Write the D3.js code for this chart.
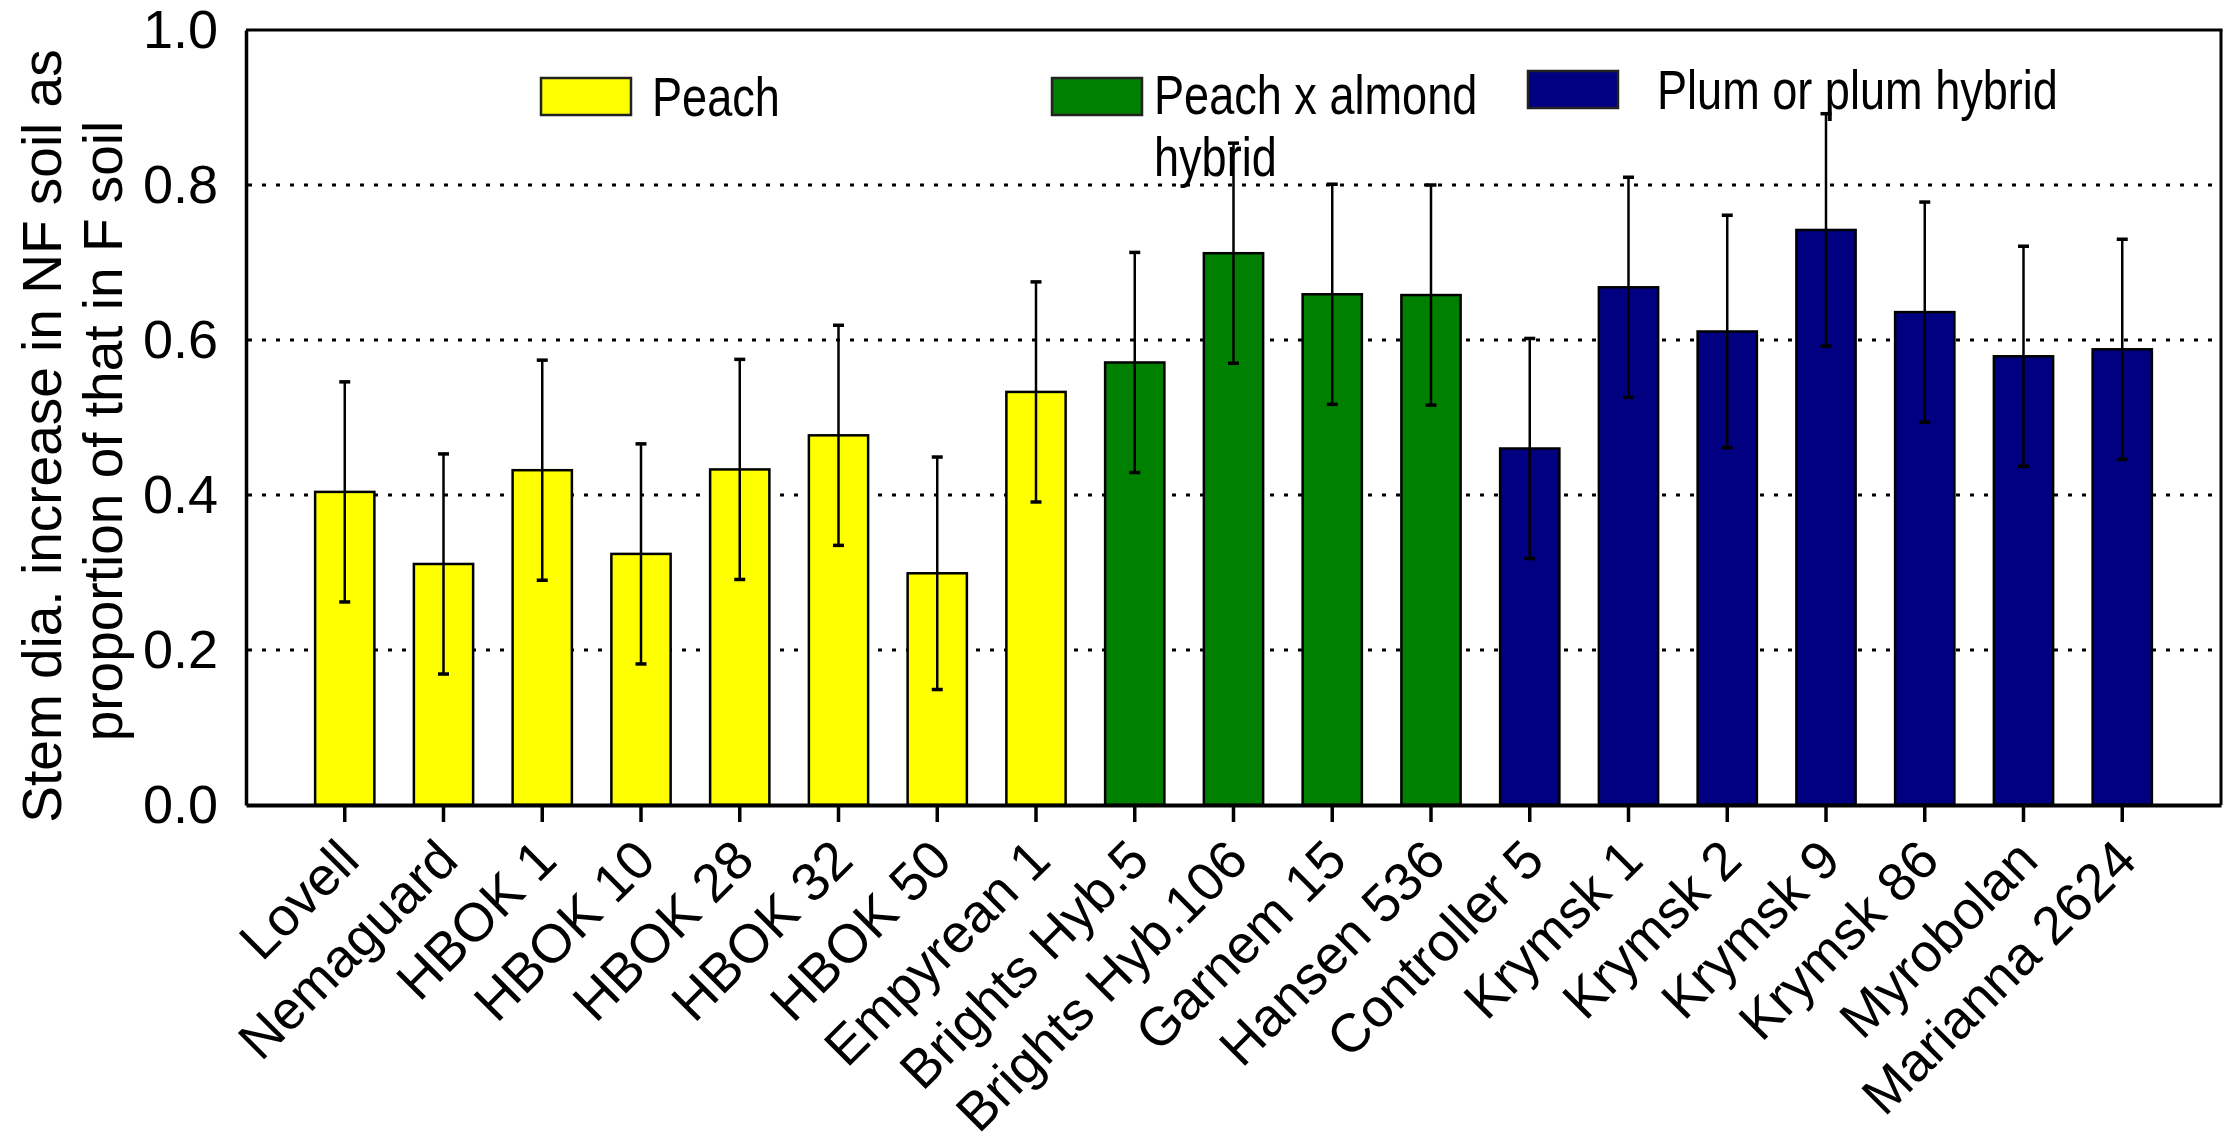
<!DOCTYPE html>
<html><head><meta charset="utf-8">
<script src="https://cdn.jsdelivr.net/npm/d3@7"></script>
<style>
html,body{margin:0;padding:0;background:#fff;}
text{font-family:"Liberation Sans",Arial,Helvetica,sans-serif;fill:#000;}
</style></head>
<body><svg id="chart" width="2234" height="1142"></svg>
<script>
const categories = ["Lovell","Nemaguard","HBOK 1","HBOK 10","HBOK 28","HBOK 32","HBOK 50","Empyrean 1",
  "Brights Hyb.5","Brights Hyb.106","Garnem 15","Hansen 536",
  "Controller 5","Krymsk 1","Krymsk 2","Krymsk 9","Krymsk 86","Myrobolan","Marianna 2624"];
const groups = ["Peach","Peach","Peach","Peach","Peach","Peach","Peach","Peach",
  "Peach x almond hybrid","Peach x almond hybrid","Peach x almond hybrid","Peach x almond hybrid",
  "Plum or plum hybrid","Plum or plum hybrid","Plum or plum hybrid","Plum or plum hybrid","Plum or plum hybrid","Plum or plum hybrid","Plum or plum hybrid"];
const values = [0.404,0.311,0.432,0.324,0.433,0.477,0.299,0.533,0.571,0.712,0.659,0.658,0.460,0.668,0.611,0.742,0.636,0.579,0.588];
const errors = [0.142,0.142,0.142,0.142,0.142,0.142,0.150,0.142,0.142,0.142,0.142,0.142,0.142,0.142,0.150,0.150,0.142,0.142,0.142];
const groupNames = ["Peach","Peach x almond hybrid","Plum or plum hybrid"];
const groupColors = ["#FFFF00","#008000","#000080"];
const legendLines = [["Peach"],["Peach x almond","hybrid"],["Plum or plum hybrid"]];
const yTicks = [0,0.2,0.4,0.6,0.8,1.0];
const gridValues = [0.2,0.4,0.6,0.8];
const yTitle = ["Stem dia. increase in NF soil as","proportion of that in F soil"];

const svg = d3.select("#chart");
const L=246, R=2221, T=30, B=805;
const x = d3.scaleBand().domain(categories).range([L,R]).paddingInner(0.4).paddingOuter(0.7);
const y = d3.scaleLinear().domain([0,1]).range([B,T]);
const color = d3.scaleOrdinal().domain(groupNames).range(groupColors);

// gridlines
svg.append("g").selectAll("line").data(gridValues).join("line")
  .attr("x1",L+2).attr("x2",R).attr("y1",d=>y(d)).attr("y2",d=>y(d))
  .attr("stroke","#000").attr("stroke-width",3).attr("stroke-dasharray","4,10");

// bars
const rows = categories.map((c,i)=>({c, g:groups[i], v:values[i], e:errors[i]}));
svg.append("g").selectAll("rect").data(rows).join("rect")
  .attr("x",d=>x(d.c)).attr("width",x.bandwidth())
  .attr("y",d=>y(d.v)).attr("height",d=>y(0)-y(d.v))
  .attr("fill",d=>color(d.g)).attr("stroke","#000").attr("stroke-width",2.5);

// error bars
const eb = svg.append("g").selectAll("g").data(rows).join("g");
eb.append("line").attr("x1",d=>x(d.c)+x.bandwidth()/2).attr("x2",d=>x(d.c)+x.bandwidth()/2)
  .attr("y1",d=>y(d.v+d.e)).attr("y2",d=>y(d.v-d.e)).attr("stroke","#000").attr("stroke-width",2.5);
[1,-1].forEach(s=>{
  eb.append("line").attr("x1",d=>x(d.c)+x.bandwidth()/2-5.5).attr("x2",d=>x(d.c)+x.bandwidth()/2+5.5)
    .attr("y1",d=>y(d.v+s*d.e)).attr("y2",d=>y(d.v+s*d.e)).attr("stroke","#000").attr("stroke-width",3.5);
});

// frame
svg.append("line").attr("x1",L).attr("x2",R+1.5).attr("y1",T).attr("y2",T).attr("stroke","#000").attr("stroke-width",3);
svg.append("line").attr("x1",R).attr("x2",R).attr("y1",T).attr("y2",B).attr("stroke","#000").attr("stroke-width",3);

// y axis
const ya = svg.append("g").attr("transform",`translate(${L},0)`)
  .call(d3.axisLeft(y).tickValues(yTicks).tickFormat(d3.format(".1f")).tickSize(0).tickSizeOuter(0).tickPadding(28));
ya.select(".domain").attr("stroke-width",3.5);
ya.selectAll("text").attr("font-size",54).attr("font-family","Liberation Sans, Arial, sans-serif");

// x axis
const xa = svg.append("g").attr("transform",`translate(0,${B})`)
  .call(d3.axisBottom(x).tickSize(17).tickSizeOuter(0));
xa.select(".domain").attr("stroke-width",4);
xa.selectAll(".tick line").attr("stroke-width",3.5);
xa.selectAll(".tick text").remove();
svg.append("g").selectAll("text").data(categories).join("text")
  .attr("transform",d=>`translate(${x(d)+x.bandwidth()/2+17},${B+58}) rotate(-45)`)
  .attr("text-anchor","end").attr("font-size",54).text(d=>d);

// y title
svg.append("g").selectAll("text").data(yTitle).join("text")
  .attr("transform",(d,i)=>`translate(${61+i*61},${436-i*5}) rotate(-90)`)
  .attr("text-anchor","middle").attr("font-size",55).text(d=>d);

// legend
const legPos = [{sx:541,sy:78,tx:652,ty:116},{sx:1052,sy:78,tx:1154,ty:114},{sx:1528,sy:71,tx:1657,ty:109}];
const lg = svg.append("g").selectAll("g").data(groupNames).join("g");
lg.append("rect").attr("x",(d,i)=>legPos[i].sx).attr("y",(d,i)=>legPos[i].sy)
  .attr("width",90).attr("height",37).attr("fill",d=>color(d)).attr("stroke","#222").attr("stroke-width",2.5);
lg.each(function(d,i){
  legendLines[i].forEach((t,j)=>{
    d3.select(this).append("text")
      .attr("transform",`translate(${legPos[i].tx},${legPos[i].ty+j*62}) scale(0.82,1)`)
      .attr("font-size",55).text(t);
  });
});
</script></body></html>
